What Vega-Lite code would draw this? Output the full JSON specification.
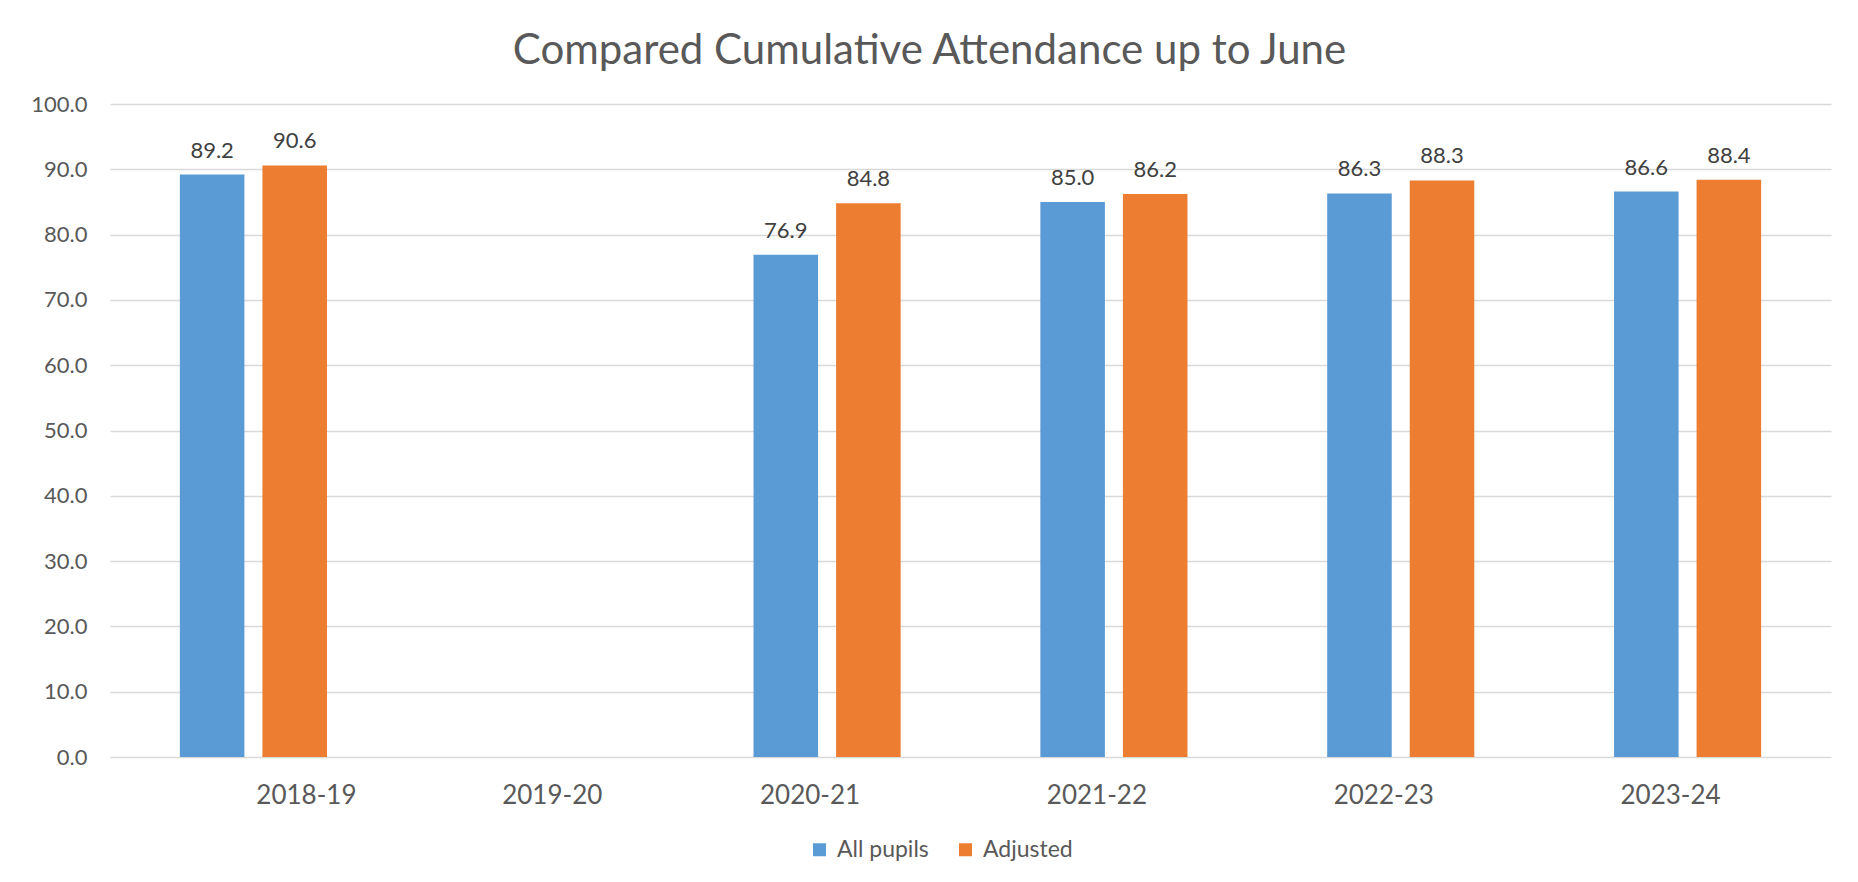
{
  "$schema": "https://vega.github.io/schema/vega-lite/v6.json",
  "width": 1721,
  "height": 653,
  "autosize": {"type": "none"},
  "padding": {"left": 110, "top": 104, "right": 27, "bottom": 125},
  "background": "white",
  "title": {
    "text": "Compared Cumulative Attendance up to June",
    "anchor": "middle",
    "frame": "group",
    "dx": -41,
    "offset": 20,
    "font": "Lato",
    "fontSize": 42,
    "fontWeight": "normal",
    "color": "#595959"
  },
  "data": {
    "values": [
      {"year": "2018-19", "group": "All pupils", "attendance": 89.2},
      {"year": "2018-19", "group": "Adjusted", "attendance": 90.6},
      {"year": "2020-21", "group": "All pupils", "attendance": 76.9},
      {"year": "2020-21", "group": "Adjusted", "attendance": 84.8},
      {"year": "2021-22", "group": "All pupils", "attendance": 85.0},
      {"year": "2021-22", "group": "Adjusted", "attendance": 86.2},
      {"year": "2022-23", "group": "All pupils", "attendance": 86.3},
      {"year": "2022-23", "group": "Adjusted", "attendance": 88.3},
      {"year": "2023-24", "group": "All pupils", "attendance": 86.6},
      {"year": "2023-24", "group": "Adjusted", "attendance": 88.4}
    ]
  },
  "encoding": {
    "x": {
      "field": "year",
      "type": "nominal",
      "sort": null,
      "scale": {
        "domain": ["2018-19", "2019-20", "2020-21", "2021-22", "2022-23", "2023-24"],
        "paddingInner": 0,
        "paddingOuter": 0
      },
      "axis": {
        "title": null,
        "domain": false,
        "ticks": false,
        "grid": false,
        "labelAngle": 0,
        "labelFont": "Lato",
        "labelFontSize": 26,
        "labelColor": "#595959",
        "labelPadding": 25,
        "labelOffset": 0,
        "labelOverlap": false,
        "encoding": {
          "labels": {
            "dx": {
              "condition": [
                {"test": "datum.value === '2018-19'", "value": 53},
                {"test": "datum.value === '2019-20'", "value": 12}
              ],
              "value": -17
            }
          }
        }
      }
    },
    "xOffset": {
      "field": "group",
      "type": "nominal",
      "sort": null,
      "scale": {
        "domain": ["All pupils", "Adjusted"],
        "paddingInner": 0.218,
        "paddingOuter": 0.846
      }
    },
    "y": {
      "field": "attendance",
      "type": "quantitative",
      "scale": {"domain": [0, 100], "nice": false},
      "axis": {
        "title": null,
        "domain": false,
        "ticks": false,
        "values": [0, 10, 20, 30, 40, 50, 60, 70, 80, 90, 100],
        "format": ".1f",
        "labelFont": "Lato",
        "labelFontSize": 22,
        "labelColor": "#595959",
        "labelPadding": 23,
        "labelFlush": false,
        "labelOverlap": false,
        "gridColor": "#D9D9D9",
        "gridWidth": 1.5
      }
    }
  },
  "layer": [
    {
      "mark": {"type": "bar"},
      "encoding": {
        "color": {
          "field": "group",
          "type": "nominal",
          "sort": null,
          "scale": {"domain": ["All pupils", "Adjusted"], "range": ["#5B9BD5", "#ED7D31"]},
          "legend": {
            "orient": "none",
            "legendX": 698,
            "legendY": 734,
            "direction": "horizontal",
            "title": null,
            "symbolType": "square",
            "symbolSize": 169,
            "symbolStrokeWidth": 0,
            "labelFont": "Lato",
            "labelFontSize": 23,
            "labelColor": "#595959",
            "labelOffset": 6,
            "columnPadding": 25,
            "padding": 0
          }
        }
      }
    },
    {
      "mark": {
        "type": "text",
        "dy": -17,
        "baseline": "alphabetic",
        "font": "Lato",
        "fontSize": 22,
        "color": "#404040"
      },
      "encoding": {
        "text": {"field": "attendance", "type": "quantitative", "format": ".1f"}
      }
    }
  ],
  "config": {"view": {"stroke": null}}
}
